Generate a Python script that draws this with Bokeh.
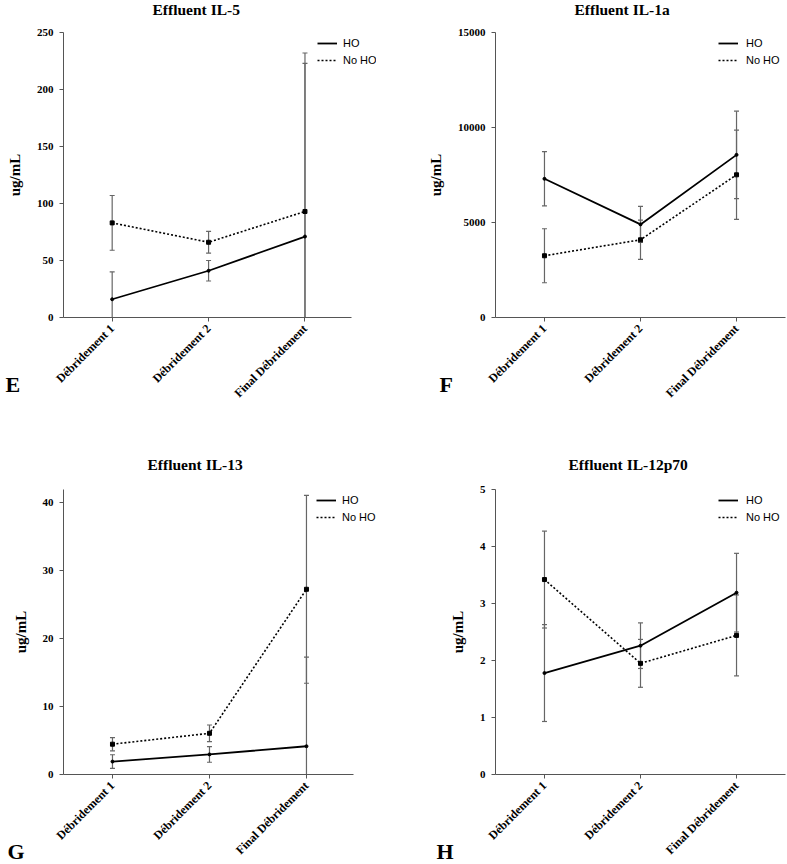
import math
from bokeh.plotting import figure
from bokeh.models import Range1d, Legend, LegendItem, Label, FixedTicker
from bokeh.layouts import gridplot
from bokeh.embed import file_html
from bokeh.resources import INLINE

categories = ["Débridement 1", "Débridement 2", "Final Débridement"]
series_names = ["HO", "No HO"]

il5_ho = [16, 41, 71]
il5_ho_err = [24, 9, 161]
il5_no = [83, 66, 93]
il5_no_err = [24, 9.5, 130]

il1a_ho = [7300, 4900, 8560]
il1a_ho_err = [1430, 950, 2300]
il1a_no = [3250, 4090, 7510]
il1a_no_err = [1420, 1030, 2350]

il13_ho = [1.9, 2.95, 4.15]
il13_ho_err = [1.0, 1.15, 13.1]
il13_no = [4.45, 6.05, 27.2]
il13_no_err = [0.97, 1.22, 13.8]

il12_ho = [1.78, 2.26, 3.19]
il12_ho_err = [0.85, 0.40, 0.69]
il12_no = [3.42, 1.95, 2.44]
il12_no_err = [0.85, 0.42, 0.71]

SERIF = "Liberation Serif"
SANS = "Liberation Sans"
AXIS_COLOR = "#555555"
ERR_COLOR = "#666666"


def make_panel(title, letter, ho, ho_err, no, no_err, y_max, y_ticks,
               mbl, mbr, mbt, mbb, x_start, x_end, x_bound, title_offset,
               title_mode, title_standoff, legend_x, legend_standoff,
               letter_side, letter_x, letter_y):
    p = figure(width=393, height=432, output_backend="svg", toolbar_location=None,
               x_range=Range1d(x_start, x_end), y_range=Range1d(0, y_max),
               min_border_left=mbl, min_border_right=mbr,
               min_border_top=mbt, min_border_bottom=mbb)
    p.outline_line_color = None
    p.xgrid.visible = False
    p.ygrid.visible = False
    p.background_fill_color = "white"

    xs = list(range(len(categories)))

    for mean, err in ((ho, ho_err), (no, no_err)):
        lo = [m - e for m, e in zip(mean, err)]
        hi = [m + e for m, e in zip(mean, err)]
        p.segment(x0=xs, y0=lo, x1=xs, y1=hi, line_color=ERR_COLOR, line_width=1.2)
        p.scatter(x=xs, y=hi, marker="dash", size=5, line_color=ERR_COLOR, line_width=1.2)
        p.scatter(x=xs, y=lo, marker="dash", size=5, line_color=ERR_COLOR, line_width=1.2)

    l_ho = p.line(xs, ho, line_color="black", line_width=1.8)
    p.scatter(xs, ho, marker="circle", size=3, fill_color="black", line_color="black")
    l_no = p.line(xs, no, line_color="black", line_width=1.6, line_dash="2 2")
    p.scatter(xs, no, marker="square", size=4, fill_color="black", line_color="black")

    # axes
    p.xaxis.ticker = FixedTicker(ticks=xs)
    p.xaxis.major_label_overrides = {i: c for i, c in enumerate(categories)}
    p.xaxis.major_label_orientation = math.pi / 4
    p.xaxis.bounds = (x_start, x_bound)
    p.yaxis.ticker = FixedTicker(ticks=y_ticks)
    for ax in (p.xaxis[0], p.yaxis[0]):
        ax.axis_line_color = AXIS_COLOR
        ax.major_tick_line_color = AXIS_COLOR
        ax.minor_tick_line_color = None
        ax.major_tick_in = 0
        ax.major_tick_out = 4
        ax.major_label_text_font = SERIF
        ax.major_label_text_font_style = "bold"
        ax.major_label_text_color = "black"
    p.xaxis.major_label_text_font_size = "12px"
    p.xaxis.major_label_standoff = 5
    p.yaxis.major_label_text_font_size = "11px"
    p.yaxis.major_label_standoff = 6
    p.yaxis.axis_label = "ug/mL"
    p.yaxis.axis_label_text_font = SERIF
    p.yaxis.axis_label_text_font_style = "bold"
    p.yaxis.axis_label_text_font_size = "15px"
    p.yaxis.axis_label_text_color = "black"
    p.yaxis.axis_label_standoff = 11

    # title
    if title_mode == "title":
        p.title.text = title
        p.title.text_font = SERIF
        p.title.text_font_style = "bold"
        p.title.text_font_size = "15.5px"
        p.title.text_color = "black"
        p.title.align = "left"
        p.title.vertical_align = "bottom"
        p.title.offset = title_offset
        p.title.standoff = title_standoff
    else:
        p.add_layout(Label(x=title_offset, y=title_standoff, x_units="screen", y_units="screen",
                           text=title, text_font=SERIF, text_font_style="bold",
                           text_font_size="15.5px", text_color="black",
                           text_baseline="alphabetic"), "above")

    legend = Legend(items=[LegendItem(label=series_names[0], renderers=[l_ho]),
                           LegendItem(label=series_names[1], renderers=[l_no])],
                    location=(legend_x, 250))
    legend.label_text_font = SANS
    legend.label_text_font_size = "11px"
    legend.label_text_color = "black"
    legend.glyph_width = 20
    legend.glyph_height = 14
    legend.label_height = 14
    legend.label_standoff = legend_standoff
    legend.spacing = 3
    legend.padding = 0
    legend.margin = 0
    legend.border_line_color = None
    legend.background_fill_alpha = 0
    p.add_layout(legend)

    p.add_layout(Label(x=letter_x, y=letter_y, x_units="screen", y_units="screen", text=letter,
                       text_font=SERIF, text_font_style="bold", text_font_size="22px",
                       text_color="black", text_baseline="alphabetic"), letter_side)
    return p


pe = make_panel("Effluent IL-5", "E", il5_ho, il5_ho_err, il5_no, il5_no_err, 250,
                [0, 50, 100, 150, 200, 250], 63, 15, 32, 115,
                -0.505, 2.742, 2.485, 89, "label", 23, 254, 6, "right", -371, -67)
pf = make_panel("Effluent IL-1a", "F", il1a_ho, il1a_ho_err, il1a_no, il1a_no_err, 15000,
                [0, 5000, 10000, 15000], 102, 1, 32, 115,
                -0.51, 2.51, 2.51, 79, "label", 23, 223, 8, "left", 28, -67)
pg = make_panel("Effluent IL-13", "G", il13_ho, il13_ho_err, il13_no, il13_no_err, 41.85,
                [0, 10, 20, 30, 40], 63, 17, 57, 90,
                -0.505, 2.722, 2.485, 84, "title", 34, 253, 6, "right", -369, -77)
ph = make_panel("Effluent IL-12p70", "H", il12_ho, il12_ho_err, il12_no, il12_no_err, 5,
                [0, 1, 2, 3, 4, 5], 102, 1, 57, 90,
                -0.51, 2.51, 2.51, 73, "title", 34, 223, 8, "left", 7, -77)

grid = gridplot([[pe, pf], [pg, ph]], toolbar_location=None)
open("out.html", "w").write(file_html(grid, INLINE))
